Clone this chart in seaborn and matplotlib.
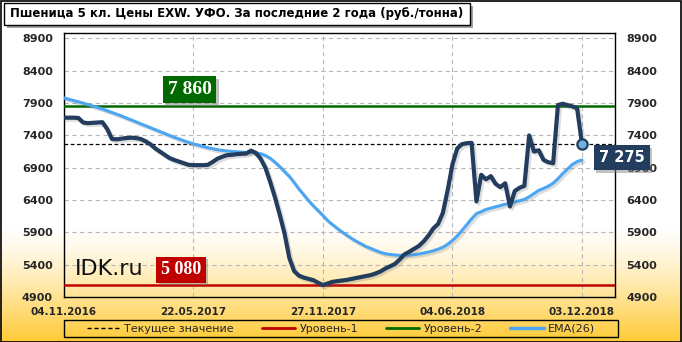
import numpy as np
import pandas as pd
import seaborn as sns
import matplotlib
matplotlib.use("Agg")
import matplotlib.pyplot as plt
from matplotlib import patheffects as pe
from matplotlib.lines import Line2D
from matplotlib.patches import Rectangle

title = "Пшеница 5 кл. Цены EXW. УФО. За последние 2 года (руб./тонна)"
tick_labels = ["04.11.2016", "22.05.2017", "27.11.2017", "04.06.2018", "03.12.2018"]
tick_idx = [0, 27, 54, 81, 108]
y_ticks = [4900, 5400, 5900, 6400, 6900, 7400, 7900, 8400, 8900]

price = [7675, 7675, 7675, 7670, 7600, 7590, 7595, 7600, 7605, 7500,
         7345, 7340, 7350, 7360, 7365, 7360, 7345, 7310, 7265, 7200,
         7150, 7100, 7050, 7020, 6995, 6970, 6945, 6940, 6940, 6940,
         6945, 6990, 7040, 7070, 7095, 7100, 7110, 7115, 7120, 7165,
         7130, 7040, 6900, 6680, 6440, 6170, 5880, 5500, 5300, 5230,
         5200, 5180, 5160, 5120, 5085, 5110, 5135, 5145, 5155, 5165,
         5180, 5195, 5210, 5225, 5240, 5265, 5295, 5340, 5375, 5410,
         5480, 5560, 5600, 5645, 5690, 5760, 5850, 5960, 6030, 6200,
         6550, 6950, 7200, 7265, 7280, 7285, 6380, 6790, 6720, 6770,
         6650, 6600, 6660, 6300, 6540, 6590, 6620, 7400, 7150, 7170,
         7020, 6985, 6970, 7870, 7890, 7870, 7850, 7820, 7275]

ema = [7980, 7960, 7940, 7920, 7900, 7878, 7855, 7832, 7808, 7782,
       7755, 7728, 7700, 7670, 7640, 7610, 7580, 7550, 7520, 7490,
       7460, 7430, 7400, 7370, 7345, 7318, 7292, 7268, 7250, 7230,
       7210, 7195, 7180, 7168, 7160, 7152, 7146, 7141, 7137, 7134,
       7130, 7118, 7090, 7047, 6985, 6917, 6840, 6765, 6670, 6570,
       6480, 6390, 6310, 6235, 6160, 6080, 6020, 5960, 5905, 5855,
       5805, 5760, 5720, 5680, 5650, 5620, 5590, 5570, 5558, 5550,
       5545, 5545, 5548, 5555, 5565, 5580, 5595, 5615, 5640, 5670,
       5715, 5775, 5845, 5930, 6020, 6110, 6190, 6220, 6255, 6275,
       6295, 6315, 6335, 6350, 6370, 6390, 6410, 6450, 6500, 6550,
       6580, 6615, 6660, 6730, 6810, 6880, 6950, 6995, 7020]

level1 = 5080
level2 = 7860
current = 7275

legend_labels = ["Текущее значение", "Уровень-1", "Уровень-2", "EMA(26)"]

DARK = "#233D5F"
BLUE = "#4AA6F2"
GREEN = "#006A00"
RED = "#C00000"

sns.set_theme(style="white")
plt.rcParams["font.family"] = ["DejaVu Sans"]

W, H = 682, 342
fig = plt.figure(figsize=(W / 100, H / 100), dpi=100)

# background gradient
bg = fig.add_axes([0, 0, 1, 1], zorder=-10)
rows = np.arange(H)
t = np.clip((rows - 225) / (H - 225), 0, 1) ** 1.3
top = np.array([1.0, 1.0, 1.0])
bot = np.array([1.0, 0.79, 0.20])
grad = top[None, :] * (1 - t[:, None]) + bot[None, :] * t[:, None]
img = np.repeat(grad[:, None, :], 4, axis=1)
bg.imshow(img, aspect="auto", extent=[0, 1, 0, 1], origin="upper")
bg.set_axis_off()

# outer border
fig.patches.append(Rectangle((0.5 / W, 0.5 / H), 1 - 1.5 / W, 1 - 1.5 / H, transform=fig.transFigure,
                             fill=False, edgecolor="black", lw=1.2, zorder=5))

# title box with shadow
tx0, ty0, tw, th = 4, 342 - 25, 466, 22
fig.patches.append(Rectangle(((tx0 + 3) / W, (ty0 - 3) / H), tw / W, th / H, transform=fig.transFigure,
                             facecolor="#a0a0a0", edgecolor="none", zorder=3))
fig.patches.append(Rectangle((tx0 / W, ty0 / H), tw / W, th / H, transform=fig.transFigure,
                             facecolor="white", edgecolor="black", lw=1, zorder=4))
fig.text((tx0 + 6) / W, (ty0 + th / 2) / H, title, ha="left", va="center",
         fontsize=8.5, fontweight="bold", color="black", zorder=6)

ax = fig.add_axes([64 / W, 45 / H, 551 / W, 264 / H])
ax.set_zorder(1)
ax.patch.set_alpha(0)

df = pd.DataFrame({"idx": np.arange(len(price)), "price": price, "ema": ema})

shadow = [pe.SimpleLineShadow(offset=(1.5, -1.5), shadow_color="#666666", alpha=0.22), pe.Normal()]

sns.lineplot(data=df, x="idx", y="ema", ax=ax, color=BLUE, lw=2.2, zorder=4,
             path_effects=shadow)
sns.lineplot(data=df, x="idx", y="price", ax=ax, color=DARK, lw=3.0, zorder=5,
             path_effects=shadow)

ax.axhline(level2, color=GREEN, lw=1.8, zorder=3)
ax.axhline(level1, color=RED, lw=1.8, zorder=3)
ax.axhline(current, color="black", lw=0.9, ls=(0, (3, 2)), zorder=3)

ax.scatter([df["idx"].iloc[-1]], [price[-1]], s=55, facecolor="#6FB3DC", edgecolor=DARK,
           lw=1.6, zorder=7)

xmax = 114.9
ax.set_xlim(0, xmax)
ax.set_ylim(4900, 8985)
ax.set_xticks(tick_idx)
ax.set_xticklabels(tick_labels)
ax.set_yticks(y_ticks)
ax.set_yticklabels([str(v) for v in y_ticks])
ax.set_xlabel("")
ax.set_ylabel("")

ax.grid(True, color="#b8b8b8", lw=0.8, ls=(0, (4, 3)))
ax.set_axisbelow(True)
for s in ax.spines.values():
    s.set_color("black")
    s.set_linewidth(1.0)
    s.set_visible(True)

ax.tick_params(axis="y", length=0, pad=8, labelsize=8, labelright=True, labelleft=True)
ax.tick_params(axis="x", length=0, pad=7, labelsize=7.5)
for lab in ax.get_xticklabels() + ax.get_yticklabels():
    lab.set_fontweight("bold")
for tl in ax.yaxis.get_major_ticks():
    tl.label2.set_fontweight("bold")
    tl.label2.set_fontsize(8)

box_shadow = [pe.withSimplePatchShadow(offset=(2, -2), shadow_rgbFace="#777777", alpha=0.45)]

# value labels
t1 = ax.text(21.6, 8112, "7 860", ha="left", va="center", color="white", fontsize=14,
             fontweight="bold", family="Liberation Serif", zorder=8,
             bbox=dict(boxstyle="square,pad=0.25", facecolor=GREEN, edgecolor="none"))
t2 = ax.text(20.2, 5325, "5 080", ha="left", va="center", color="white", fontsize=13,
             fontweight="bold", family="Liberation Serif", zorder=8,
             bbox=dict(boxstyle="square,pad=0.25", facecolor=RED, edgecolor="none"))
t3 = ax.text(111.5, 7060, "7 275", ha="left", va="center", color="white", fontsize=10.5,
             fontweight="bold", zorder=8, clip_on=False,
             bbox=dict(boxstyle="square,pad=0.35", facecolor=DARK, edgecolor="none"))
for tt in (t1, t2, t3):
    tt.get_bbox_patch().set_path_effects(box_shadow)
ax.text(2.2, 5330, "IDK.ru", ha="left", va="center", color="#111111", fontsize=16, zorder=8)

# legend
fig.patches.append(Rectangle((64 / W, 5 / H), 554 / W, 17 / H, transform=fig.transFigure,
                             fill=False, edgecolor="black", lw=1.0, zorder=5))
handles = [
    Line2D([], [], color="black", lw=1, ls=(0, (3, 2))),
    Line2D([], [], color=RED, lw=2),
    Line2D([], [], color=GREEN, lw=2),
    Line2D([], [], color=BLUE, lw=2.5),
]
leg = fig.legend(handles, legend_labels, loc="center", ncol=4,
                 bbox_to_anchor=(0.5, 13.5 / H), frameon=False, fontsize=8,
                 handlelength=3.0, handletextpad=0.4, columnspacing=2.5, borderaxespad=0)

fig.savefig("out.png", dpi=100)
